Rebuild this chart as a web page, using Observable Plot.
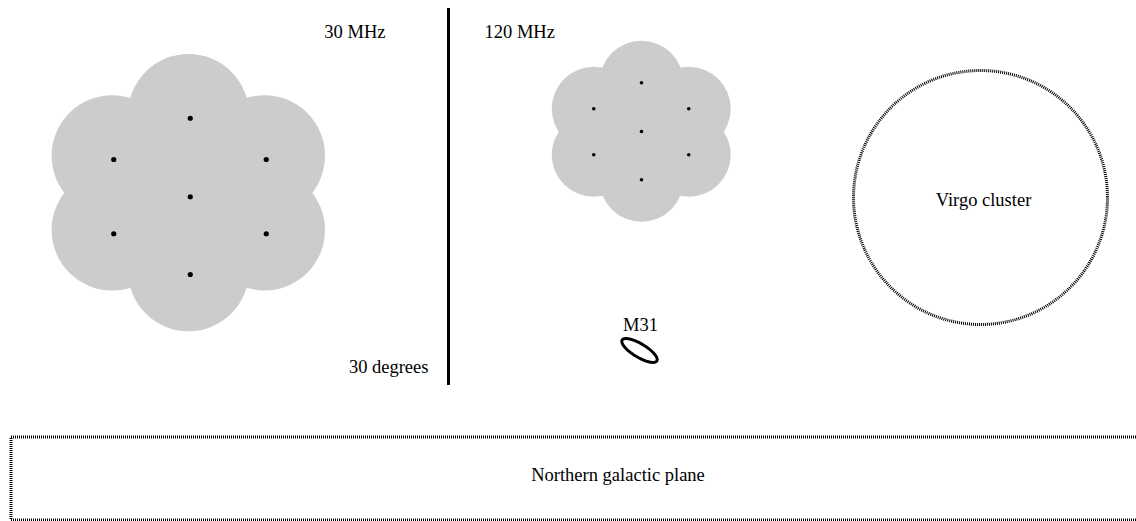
<!DOCTYPE html>
<html>
<head>
<meta charset="utf-8">
<script src="https://cdn.jsdelivr.net/npm/d3@7"></script>
<script src="https://cdn.jsdelivr.net/npm/@observablehq/plot@0.6"></script>
<style>
  html, body { margin: 0; padding: 0; background: #fff; overflow: hidden; }
  svg text { font-family: "Liberation Serif", "Times New Roman", serif !important; }
</style>
</head>
<body>
<div id="chart"></div>
<script>
// Sky offsets in degrees (x to the right, y downward)
// 30 MHz station beams: footprint circles and pointing centres
const beams30 = [
  {x: 15.04, y: 15.40}, {x: 15.04, y: 9.12}, {x: 8.93, y: 12.42}, {x: 21.12, y: 12.42},
  {x: 8.93, y: 18.36}, {x: 21.12, y: 18.36}, {x: 15.04, y: 21.62}
];
const beam30Radius = 4.84;
const pointings30 = [
  {x: 15.18, y: 15.70}, {x: 15.18, y: 9.42}, {x: 9.06, y: 12.72}, {x: 21.26, y: 12.72},
  {x: 9.06, y: 18.66}, {x: 21.26, y: 18.66}, {x: 15.18, y: 21.92}
];
// 120 MHz station beams
const beams120 = [
  {x: 51.28, y: 10.48}, {x: 51.28, y: 6.58}, {x: 47.46, y: 8.66}, {x: 55.06, y: 8.66},
  {x: 47.46, y: 12.34}, {x: 55.06, y: 12.34}, {x: 51.28, y: 14.34}
];
const beam120Radius = 3.36;
// Sources
const virgo = [{x: 78.4, y: 15.76, r: 10.16}];
const m31 = {x: 51.12, y: 28.0, a: 1.62, b: 0.54, angle: 31};
const galacticPlane = [{x1: 0.88, x2: 91.6, y1: 34.96, y2: 41.6}];
// Scale bar
const scaleBar = [{x: 35.84, y1: 0.64, y2: 30.8}];
// Labels
const labels = [
  {text: "30 MHz", x: 30.8, y: 2.56, anchor: "end"},
  {text: "120 MHz", x: 38.72, y: 2.56, anchor: "start"},
  {text: "30 degrees", x: 34.24, y: 29.34, anchor: "end"},
  {text: "M31", x: 51.2, y: 26.0, anchor: "middle"},
  {text: "Virgo cluster", x: 78.64, y: 16.0, anchor: "middle"},
  {text: "Northern galactic plane", x: 49.4, y: 38.0, anchor: "middle"}
];

// Ellipse outline of M31 from its centre, semi-axes and tilt
const th = m31.angle * Math.PI / 180;
const m31Outline = d3.range(0, 73).map(i => {
  const t = i / 72 * 2 * Math.PI;
  const ex = m31.a * Math.cos(t), ey = m31.b * Math.sin(t);
  return {x: m31.x + ex * Math.cos(th) - ey * Math.sin(th), y: m31.y + ex * Math.sin(th) + ey * Math.cos(th)};
});

const W = 1136, H = 521, pxPerDeg = 12.5;
const font = "'Liberation Serif', 'Times New Roman', serif";

const chart = Plot.plot({
  width: W, height: H,
  margin: 0,
  style: {fontFamily: font, background: "white"},
  x: {domain: [0, W / pxPerDeg], range: [0, W], axis: null},
  y: {domain: [0, H / pxPerDeg], range: [0, H], axis: null},
  r: {type: "linear", domain: [0, 10], range: [0, 10 * pxPerDeg]},
  marks: [
    Plot.dot(beams30, {x: "x", y: "y", r: () => beam30Radius, fill: "#cccccc", stroke: "none"}),
    Plot.dot(beams120, {x: "x", y: "y", r: () => beam120Radius, fill: "#cccccc", stroke: "none"}),
    Plot.dot(pointings30, {x: "x", y: "y", r: 2.6, fill: "black", stroke: "none"}),
    Plot.dot(beams120, {x: "x", y: "y", r: 1.8, fill: "black", stroke: "none"}),
    Plot.dot(virgo, {x: "x", y: "y", r: "r", fill: "none", stroke: "black", strokeWidth: 3, strokeDasharray: "1,1"}),
    Plot.line(m31Outline, {x: "x", y: "y", stroke: "black", strokeWidth: 3, strokeDasharray: "1,1", curve: "linear-closed"}),
    Plot.rect(galacticPlane, {x1: "x1", x2: "x2", y1: "y1", y2: "y2", fill: "none", stroke: "black", strokeWidth: 3, strokeDasharray: "1,1"}),
    Plot.ruleX(scaleBar, {x: "x", y1: "y1", y2: "y2", stroke: "black", strokeWidth: 3}),
    Plot.text(labels.filter(d => d.anchor === "end"), {x: "x", y: "y", text: "text", textAnchor: "end", fontSize: 18.5, fontFamily: font, fill: "black"}),
    Plot.text(labels.filter(d => d.anchor === "start"), {x: "x", y: "y", text: "text", textAnchor: "start", fontSize: 18.5, fontFamily: font, fill: "black"}),
    Plot.text(labels.filter(d => d.anchor === "middle"), {x: "x", y: "y", text: "text", textAnchor: "middle", fontSize: 18.5, fontFamily: font, fill: "black"})
  ]
});
document.getElementById("chart").appendChild(chart);
</script>
</body>
</html>
